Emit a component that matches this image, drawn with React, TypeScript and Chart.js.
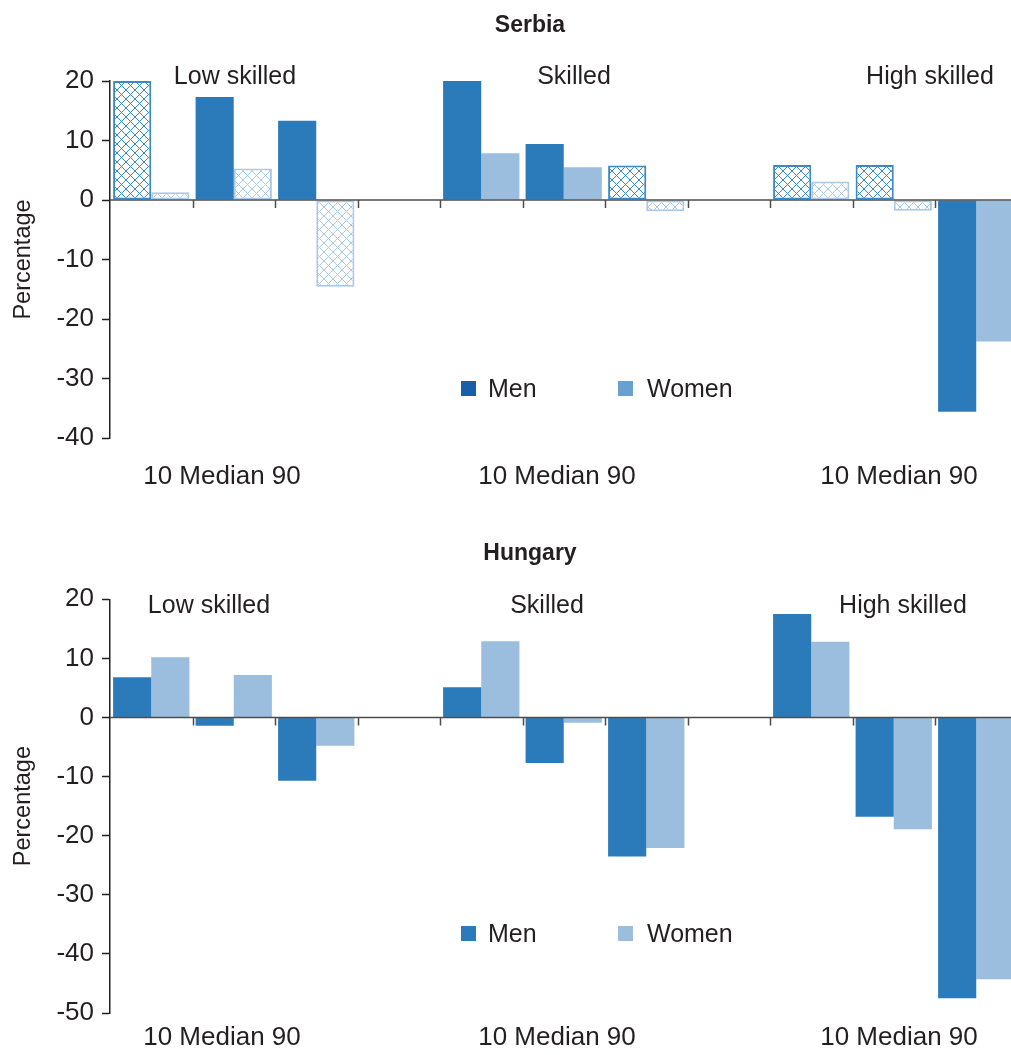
import React, { useEffect, useRef } from 'react';
import { Chart, registerables } from 'chart.js';

Chart.register(...registerables);

// ---------- data ----------
const categories = [
  'Low 10', 'Low Median', 'Low 90', '',
  'Skilled 10', 'Skilled Median', 'Skilled 90', '',
  'High 10', 'High Median', 'High 90',
];
const sectionNames = ['Low skilled', 'Skilled', 'High skilled'];
const percentileLabel = '10 Median 90';
const legendLabels = ['Men', 'Women'];

const serbiaMen = [20.0, 17.3, 13.3, null, 20.0, 9.4, 5.8, null, 5.9, 5.9, -35.6];
const serbiaWomen = [1.3, 5.3, -14.6, null, 7.85, 5.5, -1.9, null, 3.1, -1.8, -23.8];
// hatched (outlined) bars
const serbiaMenHatched = [true, false, false, false, false, false, true, false, true, true, false];
const serbiaWomenHatched = [true, true, true, false, false, false, true, false, true, true, false];

const hungaryMen = [6.8, -1.4, -10.7, null, 5.1, -7.7, -23.5, null, 17.5, -16.8, -47.5];
const hungaryWomen = [10.2, 7.2, -4.8, null, 12.9, -0.9, -22.1, null, 12.8, -18.9, -44.3];
const hungaryMenHatched = [false, false, false, false, false, false, false, false, false, false, false];
const hungaryWomenHatched = [false, false, false, false, false, false, false, false, false, false, false];

const serbiaRange = { min: -40, max: 20, step: 10 };
const hungaryRange = { min: -50, max: 20, step: 10 };

// ---------- styles ----------
const FONT = '"Liberation Sans", Arial, sans-serif';
const TEXT = '#231f20';
const MEN = '#2b7bbb';
const WOMEN = '#9bbedf';
const MEN_HATCH = '#3a88c6';
const WOMEN_HATCH = '#a9c9e8';
const CANVAS_W = 1030;

function makeHatch(color: string): CanvasPattern | string {
  const s = 9;
  const c = document.createElement('canvas');
  c.width = s;
  c.height = s;
  const g = c.getContext('2d');
  if (!g) return '#fff';
  g.fillStyle = '#ffffff';
  g.fillRect(0, 0, s, s);
  g.strokeStyle = color;
  g.lineWidth = 1;
  g.beginPath();
  g.moveTo(0, 0);
  g.lineTo(s, s);
  g.moveTo(s, 0);
  g.lineTo(0, s);
  g.stroke();
  return g.createPattern(c, 'repeat') || '#fff';
}

type PanelProps = {
  title: string;
  men: (number | null)[];
  women: (number | null)[];
  menHatched: boolean[];
  womenHatched: boolean[];
  range: { min: number; max: number; step: number };
  height: number;
  areaTop: number;
  areaBottom: number;
  titleY: number;
  sectionY: number;
  sectionX: number[];
  pctY: number;
  pctX: number[];
  legendY: number;
  legendColors: string[];
};

function Panel(p: PanelProps) {
  const ref = useRef<HTMLCanvasElement | null>(null);
  useEffect(() => {
    if (!ref.current) return;
    const menPat = makeHatch(MEN_HATCH);
    const womenPat = makeHatch(WOMEN_HATCH);

    const overlay = {
      id: 'overlay',
      afterDatasetsDraw(chart: any) {
        const ctx = chart.ctx;
        const xs = chart.scales.x;
        const ys = chart.scales.y;
        const area = chart.chartArea;
        const y0 = ys.getPixelForValue(0);
        ctx.save();
        ctx.strokeStyle = '#4d4d4d';
        ctx.lineWidth = 1.5;
        ctx.beginPath();
        ctx.moveTo(area.left, y0);
        ctx.lineTo(chart.width, y0);
        for (let i = 1; i < categories.length; i++) {
          const bx = Math.round((xs.getPixelForValue(i - 1) + xs.getPixelForValue(i)) / 2) + 0.5;
          ctx.moveTo(bx, y0);
          ctx.lineTo(bx, y0 + 8);
        }
        ctx.stroke();
        ctx.restore();
      },
      afterDraw(chart: any) {
        const ctx = chart.ctx;
        ctx.save();
        ctx.fillStyle = TEXT;
        ctx.textBaseline = 'alphabetic';
        ctx.textAlign = 'center';
        // chart title
        ctx.font = `bold 23px ${FONT}`;
        ctx.fillText(p.title, 530, p.titleY);
        // section titles
        ctx.font = `25px ${FONT}`;
        sectionNames.forEach((s, i) => ctx.fillText(s, p.sectionX[i], p.sectionY));
        // percentile labels
        ctx.font = `26px ${FONT}`;
        p.pctX.forEach((x) => ctx.fillText(percentileLabel, x, p.pctY));
        // legend
        ctx.textAlign = 'left';
        ctx.font = `25px ${FONT}`;
        const lx = [461, 618];
        const tx = [488, 647];
        legendLabels.forEach((l, i) => {
          ctx.fillStyle = p.legendColors[i];
          ctx.fillRect(lx[i], p.legendY - 16, 15, 15);
          ctx.fillStyle = TEXT;
          ctx.fillText(l, tx[i], p.legendY);
        });
        ctx.restore();
      },
    };

    const chart = new Chart(ref.current, {
      type: 'bar',
      data: {
        labels: categories,
        datasets: [
          {
            label: legendLabels[0],
            data: p.men as any,
            backgroundColor: p.menHatched.map((h) => (h ? menPat : MEN)) as any,
            borderColor: MEN_HATCH,
            borderWidth: p.menHatched.map((h) => (h ? 2 : 0)),
            borderSkipped: false,
            categoryPercentage: 0.925,
            barPercentage: 1,
          },
          {
            label: legendLabels[1],
            data: p.women as any,
            backgroundColor: p.womenHatched.map((h) => (h ? womenPat : WOMEN)) as any,
            borderColor: WOMEN_HATCH,
            borderWidth: p.womenHatched.map((h) => (h ? 2 : 0)),
            borderSkipped: false,
            categoryPercentage: 0.925,
            barPercentage: 1,
          },
        ],
      },
      options: {
        responsive: false,
        animation: false,
        devicePixelRatio: 1,
        layout: {
          padding: {
            top: p.areaTop,
            bottom: p.height - p.areaBottom,
            left: 0,
            right: CANVAS_W - 1017.5,
          },
        },
        plugins: {
          legend: { display: false },
          tooltip: { enabled: false },
          title: { display: false },
        },
        scales: {
          x: {
            display: false,
            offset: true,
          },
          y: {
            min: p.range.min,
            max: p.range.max,
            ticks: {
              stepSize: p.range.step,
              font: { family: FONT, size: 26 },
              color: TEXT,
              padding: 8,
            },
            grid: {
              drawOnChartArea: false,
              drawTicks: true,
              tickLength: 8,
              tickColor: TEXT,
              tickWidth: 1.5,
            },
            border: { display: true, color: TEXT, width: 1.5 },
            title: {
              display: true,
              text: 'Percentage',
              font: { family: FONT, size: 23.5 },
              color: TEXT,
              padding: { top: 9, bottom: 0 },
            },
            afterFit: (s: any) => {
              s.width = 110;
            },
          },
        },
      },
      plugins: [overlay],
    });
    return () => chart.destroy();
  }, []);
  return (
    <canvas
      ref={ref}
      width={CANVAS_W}
      height={p.height}
      style={{ display: 'block', width: CANVAS_W, height: p.height }}
    />
  );
}

export default function App() {
  return (
    <div
      style={{
        position: 'absolute',
        left: 0,
        top: 0,
        width: 1011,
        height: 1055,
        overflow: 'hidden',
        background: '#fff',
      }}
    >
      <Panel
        title="Serbia"
        men={serbiaMen}
        women={serbiaWomen}
        menHatched={serbiaMenHatched}
        womenHatched={serbiaWomenHatched}
        range={serbiaRange}
        height={500}
        areaTop={81}
        areaBottom={438}
        titleY={32}
        sectionY={84}
        sectionX={[235, 574, 930]}
        pctY={484}
        pctX={[222, 557, 899]}
        legendY={397}
        legendColors={['#1560a8', '#68a0d0']}
      />
      <Panel
        title="Hungary"
        men={hungaryMen}
        women={hungaryWomen}
        menHatched={hungaryMenHatched}
        womenHatched={hungaryWomenHatched}
        range={hungaryRange}
        height={555}
        areaTop={99.3}
        areaBottom={513}
        titleY={60}
        sectionY={113}
        sectionX={[209, 547, 903]}
        pctY={545}
        pctX={[222, 557, 899]}
        legendY={442}
        legendColors={[MEN, WOMEN]}
      />
    </div>
  );
}
